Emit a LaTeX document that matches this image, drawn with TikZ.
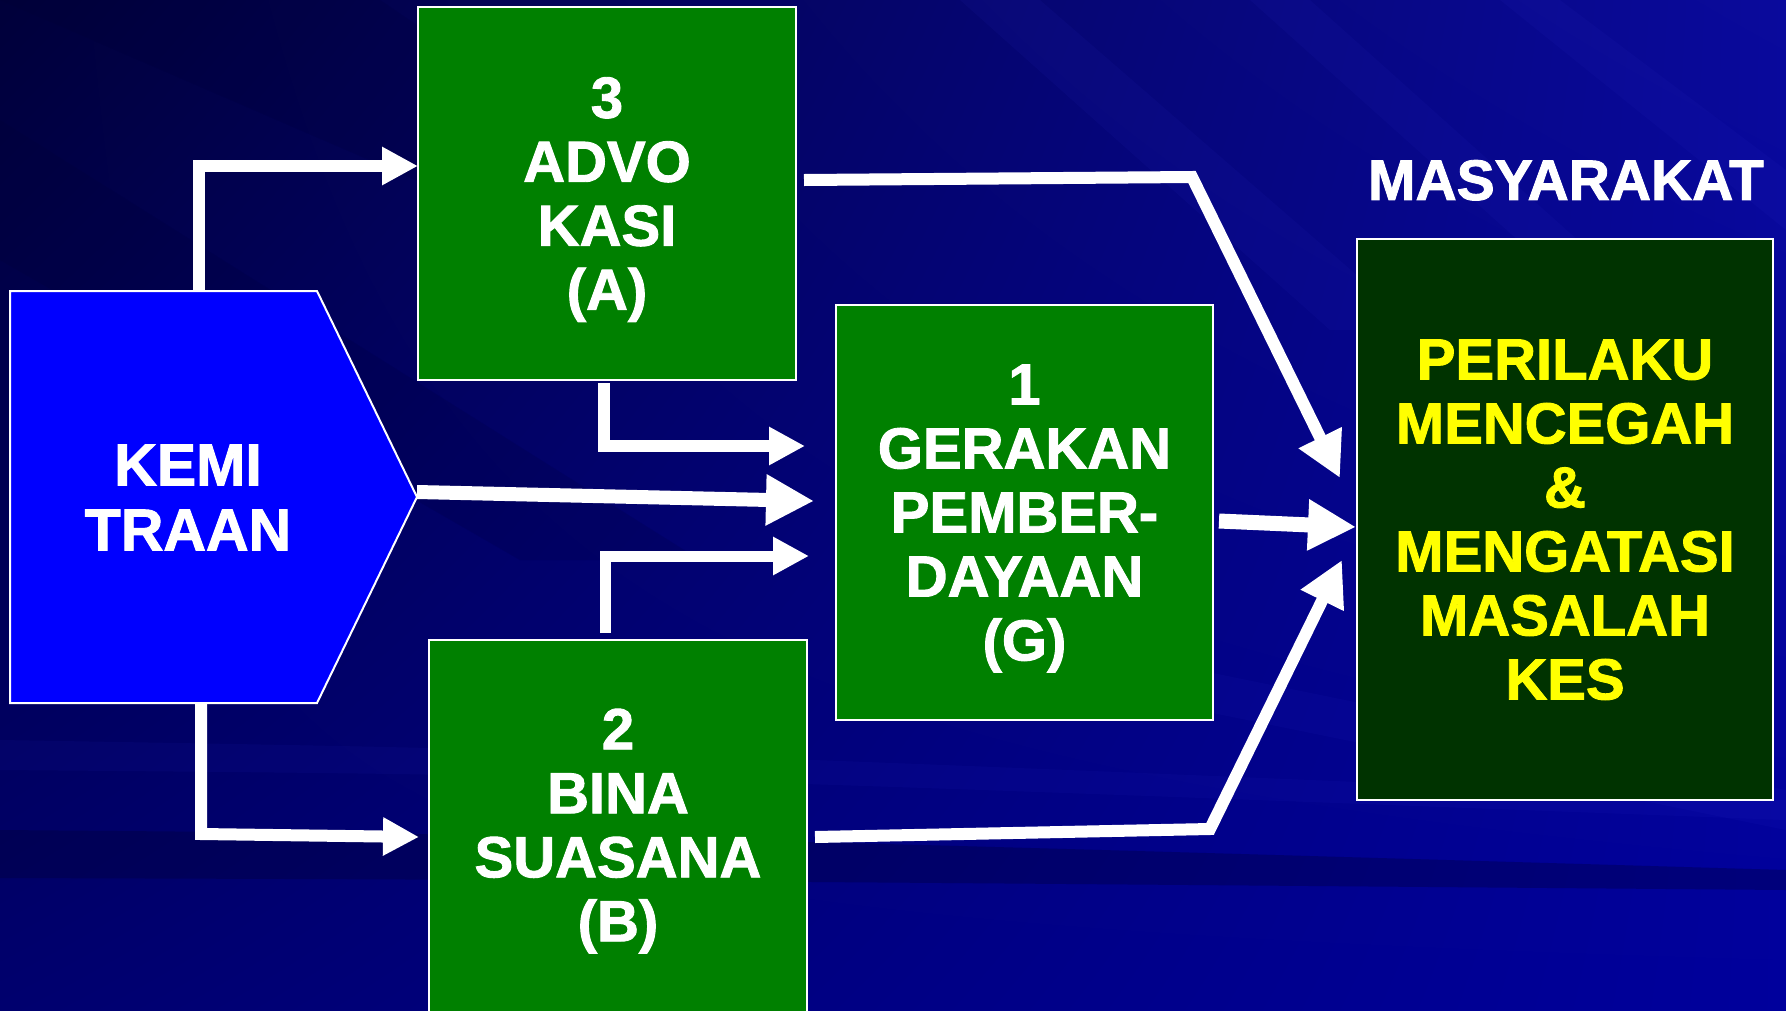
\documentclass[tikz,border=0pt]{standalone}
\usepackage{fontspec}
\setmainfont{Liberation Sans}[BoldFeatures={FakeBold=1.6}]
\usetikzlibrary{arrows.meta,shadings}
\definecolor{boxgreen}{HTML}{008000}
\definecolor{resgreen}{HTML}{003300}
\definecolor{pentblue}{HTML}{0000FF}
\definecolor{txtyellow}{HTML}{FFFF00}
\definecolor{bgUL}{HTML}{00003A}
\definecolor{bgUR}{HTML}{0A0A9C}
\definecolor{bgLL}{HTML}{00006E}
\definecolor{bgLR}{HTML}{00009C}
\definecolor{streak}{HTML}{3030D0}
\definecolor{darkstreak}{HTML}{000030}
\begin{document}
\begin{tikzpicture}[x=1pt,y=-1pt,
  bigfont/.style={font=\fontsize{58}{64}\selectfont\bfseries},
  gbox/.style={draw=white, line width=2pt, fill=boxgreen, inner sep=0pt, outer sep=0pt,
    text=white, align=center, bigfont, text depth=0pt},
  arr/.style={draw=white, line width=12pt, line join=miter, -{Triangle[length=36pt,width=36pt]}},
  bigarr/.style={draw=white, line width=14pt, -{Triangle[length=48pt,width=48pt]}},
  diagarr/.style={draw=white, line width=12pt, line join=miter, -{Triangle[length=45pt,width=45pt]}}
]
\useasboundingbox (0,0) rectangle (1786,1010);
\clip (0,0) rectangle (1786,1010);
% background
\shade[upper left=bgUL, upper right=bgUR, lower left=bgLL, lower right=bgLR] (0,0) rectangle (1786,1010);
\begin{scope}[opacity=0.15]
  \fill[darkstreak] (0,120) -- (0,260) -- (520,560) -- (700,560) -- cycle;
  \fill[darkstreak] (0,0) -- (380,0) -- (760,260) -- (600,260) -- cycle;
\end{scope}
\begin{scope}[opacity=0.08]
  \fill[streak] (960,0) -- (1040,0) -- (1420,330) -- (1330,330) -- cycle;
  \fill[streak] (1250,0) -- (1310,0) -- (1600,260) -- (1540,260) -- cycle;
  \fill[streak] (1500,0) -- (1560,0) -- (1786,170) -- (1786,230) -- cycle;
  \fill[streak] (1100,650) -- (1786,790) -- (1786,830) -- (1100,690) -- cycle;
  \fill[streak] (0,740) .. controls (600,750) .. (1786,800) -- (1786,820) .. controls (600,775) .. (0,770) -- cycle;
\end{scope}
\begin{scope}[opacity=0.3]
  \fill[darkstreak] (0,830) .. controls (600,835) .. (1786,870) -- (1786,890) .. controls (600,880) .. (0,878) -- cycle;
\end{scope}

% pentagon KEMITRAAN
\filldraw[draw=white, line width=2pt, fill=pentblue] (10,291) -- (317,291) -- (417,497) -- (317,703) -- (10,703) -- cycle;
\node[text=white, align=center, font=\fontsize{59}{65}\selectfont\bfseries, text depth=0pt] (kemi) at (188,497.5) {KEMI\\TRAAN};
\coordinate (pTop) at (199,291);
\coordinate (pBot) at (201,703);
\coordinate (pTip) at (417,492);

% boxes
\node[gbox, minimum width=378pt, minimum height=373pt] (adv) at (607,193.5) {3\\ADVO\\KASI\\(A)};
\node[gbox, minimum width=377pt, minimum height=415pt] (ger) at (1024.5,512.5) {1\\GERAKAN\\PEMBER-\\DAYAAN\\(G)};
\node[gbox, minimum width=378pt, minimum height=390pt] (bin) at (618,835) {};
\node[text=white, align=center, bigfont, text depth=0pt] (bint) at (618,825) {2\\BINA\\SUASANA\\(B)};
\node[gbox, fill=resgreen, text=txtyellow, minimum width=416pt, minimum height=561pt] (res) at (1565,519.5) {PERILAKU\\MENCEGAH\\\&\\MENGATASI\\MASALAH\\KES};
\node[text=white, font=\fontsize{57}{64}\selectfont\bfseries, text depth=0pt] (mas) at (1566,180) {MASYARAKAT};

% coordinates for connectors
\coordinate (e1) at (199,166);
\coordinate (e2) at (604,446);
\coordinate (t2) at (805,446);
\coordinate (t3) at (814,501);
\coordinate (e4) at (605,556);
\coordinate (t4) at (809,556);
\coordinate (e5) at (201,834);
\coordinate (t5) at (419,837);
\coordinate (s6) at (804,180);
\coordinate (e6) at (1192,177);
\coordinate (t6) at (1340,478);
\coordinate (s7) at (1219,521);
\coordinate (t7) at (1356,527);
\coordinate (s8) at (815,837);
\coordinate (e8) at (1210,829);
\coordinate (t8) at (1342,560);

% connectors
\draw[arr] (pTop) -- (e1) -- (adv.west |- e1);
\draw[arr] ([yshift=-3pt]adv.south -| e2) -- (e2) -- (t2);
\draw[bigarr] (pTip) -- (t3);
\draw[arr, line width=11pt] ([yshift=7pt]bin.north -| e4) -- (e4) -- (t4);
\draw[arr] (pBot) -- (e5) -- (t5);
\draw[diagarr] (s6) -- (e6) -- (t6);
\draw[bigarr, line width=15pt] (s7) -- (t7);
\draw[diagarr] (s8) -- (e8) -- (t8);
\end{tikzpicture}
\end{document}
